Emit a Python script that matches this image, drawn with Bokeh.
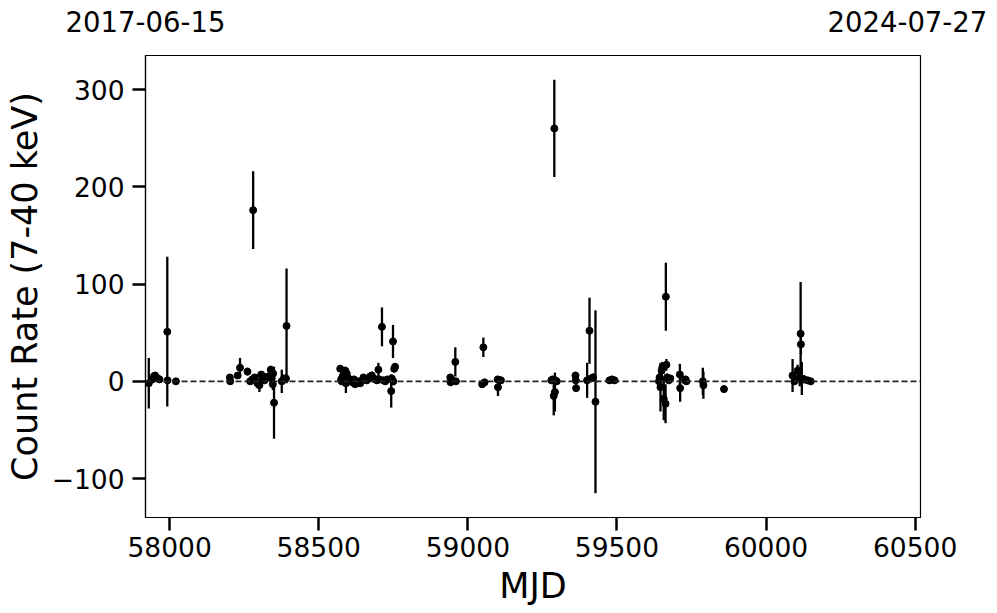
import numpy as np
from bokeh.plotting import figure
from bokeh.models import ColumnDataSource, Range1d, FixedTicker, Span, LinearAxis
from bokeh.embed import file_html
from bokeh.resources import INLINE

# Data: MJD, count rate (7-40 keV), 1-sigma error
mjd = [
    57930, 57941, 57947, 57951, 57955, 57960, 57966, 57992, 57993, 58021,
    58202, 58203, 58228, 58236, 58261, 58270, 58277, 58280, 58285, 58294,
    58301, 58307, 58311, 58318, 58323, 58330, 58339, 58342, 58346, 58347,
    58350, 58376, 58381, 58390, 58392,
    58572, 58575, 58577, 58580, 58585, 58589, 58591, 58594, 58600, 58605,
    58612, 58618, 58622, 58630, 58639, 58645, 58650, 58661, 58667, 58672,
    58678, 58684, 58690, 58695, 58700, 58703, 58712, 58717, 58723, 58730,
    58743, 58745, 58749, 58750, 58753, 58756,
    58941, 58942, 58945, 58958, 58960, 59048, 59052, 59056, 59100, 59101,
    59108, 59111,
    59280, 59284, 59288, 59290, 59292, 59294, 59298, 59361, 59362, 59363,
    59400, 59408, 59413, 59420, 59428, 59475, 59484, 59492,
    59641, 59643, 59646, 59650, 59652, 59657, 59663, 59664, 59666, 59668,
    59674, 59679, 59711, 59712, 59728, 59730, 59733, 59788, 59790, 59859,
    60089, 60095, 60100, 60106, 60113, 60116, 60117, 60120, 60128, 60140,
    60150,
]
rate = [
    -2, 2, 5, 6, 4, 3, 2, 51, 1, 0,
    4, 0, 6, 14, 10, 0, 2, 176, 4, -2,
    -4, 7, 2, 1, 4, 5, 12, 3, -3, 8,
    -22, 0, 2, 3, 57,
    13, 2, 0, 5, 9, 11, -2, 8, 3, 1,
    -1, 2, -3, 0, -2, 1, 4, 1, 3, 5,
    6, 3, 2, 1, 12, 2, 56, 1, 0, 2,
    -10, 3, 41, 0, 13, 15,
    4, -1, 2, 20, 0, -3, 35, -1, 2, -6,
    1, 1,
    1, 2, -15, 260, -11, 1, 0, 6, 1, -7,
    1, 52, 3, 4, -21, 1, 2, 1,
    0, 4, -6, 11, 14, -18, -23, 87, 17, 4,
    1, 3, 7, -7, 1, 2, 0, 0, -4, -8,
    6, 0, 2, 11, 3, 49, 38, 3, 2, 1,
    0,
]
err = [
    26, 4, 4, 3, 3, 3, 2, 77, 3, 2,
    3, 2, 3, 10, 4, 3, 3, 40, 3, 4,
    7, 3, 4, 3, 4, 3, 4, 4, 6, 4,
    37, 12, 5, 4, 59,
    3, 3, 3, 4, 3, 4, 10, 3, 3, 3,
    3, 3, 3, 3, 3, 3, 3, 3, 3, 3,
    4, 3, 3, 3, 7, 3, 20, 3, 3, 3,
    17, 4, 17, 4, 4, 3,
    3, 3, 3, 15, 3, 3, 10, 3, 3, 9,
    3, 3,
    3, 3, 20, 50, 20, 3, 3, 3, 3, 4,
    18, 34, 3, 4, 94, 3, 3, 3,
    8, 6, 25, 6, 6, 22, 20, 35, 6, 4,
    3, 3, 11, 14, 3, 3, 3, 14, 14, 4,
    17, 3, 4, 6, 8, 53, 10, 17, 4, 3,
    3,
]

x_ticks = [58000, 58500, 59000, 59500, 60000, 60500]
y_ticks = [-100, 0, 100, 200, 300]
start_date = "2017-06-15"
end_date = "2024-07-27"
mjd_start, mjd_end = 57919, 60518
# positions of the two date labels on the top axis
date_ticks = [57919, 60474]

rate_a = np.array(rate, dtype=float)
err_a = np.array(err, dtype=float)
src = ColumnDataSource(dict(x=mjd, y=rate, lo=rate_a - err_a, hi=rate_a + err_a))

p = figure(width=990, height=611, output_backend="svg", toolbar_location=None,
           x_range=Range1d(mjd_start, mjd_end), y_range=Range1d(-140, 335),
           min_border_left=145, min_border_right=70, min_border_top=55, min_border_bottom=94)
p.grid.visible = False
p.outline_line_color = "black"
p.outline_line_width = 1.2
p.background_fill_color = "white"

p.add_layout(Span(location=0, dimension="width", line_color="#222222",
                  line_dash="6 3", line_width=1.8))

p.segment(x0="x", y0="lo", x1="x", y1="hi", source=src, line_color="black", line_width=2.3)
p.scatter(x="x", y="y", source=src, size=7, color="black")

font = "DejaVu Sans"
for ax in (p.xaxis[0], p.yaxis[0]):
    ax.major_label_text_font = font
    ax.major_label_text_font_size = "26.5px"
    ax.major_label_text_color = "black"
    ax.axis_label_text_font = font
    ax.axis_label_text_font_size = "35px"
    ax.axis_label_text_font_style = "normal"
    ax.axis_label_text_color = "black"
    ax.major_tick_out = 13
    ax.major_tick_in = 0
    ax.major_tick_line_width = 2.5
    ax.major_tick_line_color = "black"
    ax.minor_tick_out = 0
    ax.minor_tick_in = 0
    ax.axis_line_color = "black"
    ax.axis_line_width = 1.2

p.xaxis[0].ticker = FixedTicker(ticks=x_ticks)
p.yaxis[0].ticker = FixedTicker(ticks=y_ticks)
p.yaxis[0].major_label_overrides = {t: str(t).replace("-", "\u2212") for t in y_ticks}
p.xaxis[0].axis_label = "MJD"
p.yaxis[0].axis_label = "Count Rate (7-40 keV)"
p.xaxis[0].major_label_standoff = 6
p.yaxis[0].major_label_standoff = 8
p.xaxis[0].axis_label_standoff = 6
p.yaxis[0].axis_label_standoff = 4

top = LinearAxis(ticker=FixedTicker(ticks=date_ticks),
                 major_label_overrides={date_ticks[0]: start_date, date_ticks[1]: end_date})
top.major_label_text_font = font
top.major_label_text_font_size = "27.5px"
top.major_label_text_color = "black"
top.major_tick_out = 0
top.major_tick_in = 0
top.minor_tick_out = 0
top.minor_tick_in = 0
top.axis_line_color = None
top.major_label_standoff = 24
p.add_layout(top, "above")

open("out.html", "w").write(file_html(p, INLINE))
